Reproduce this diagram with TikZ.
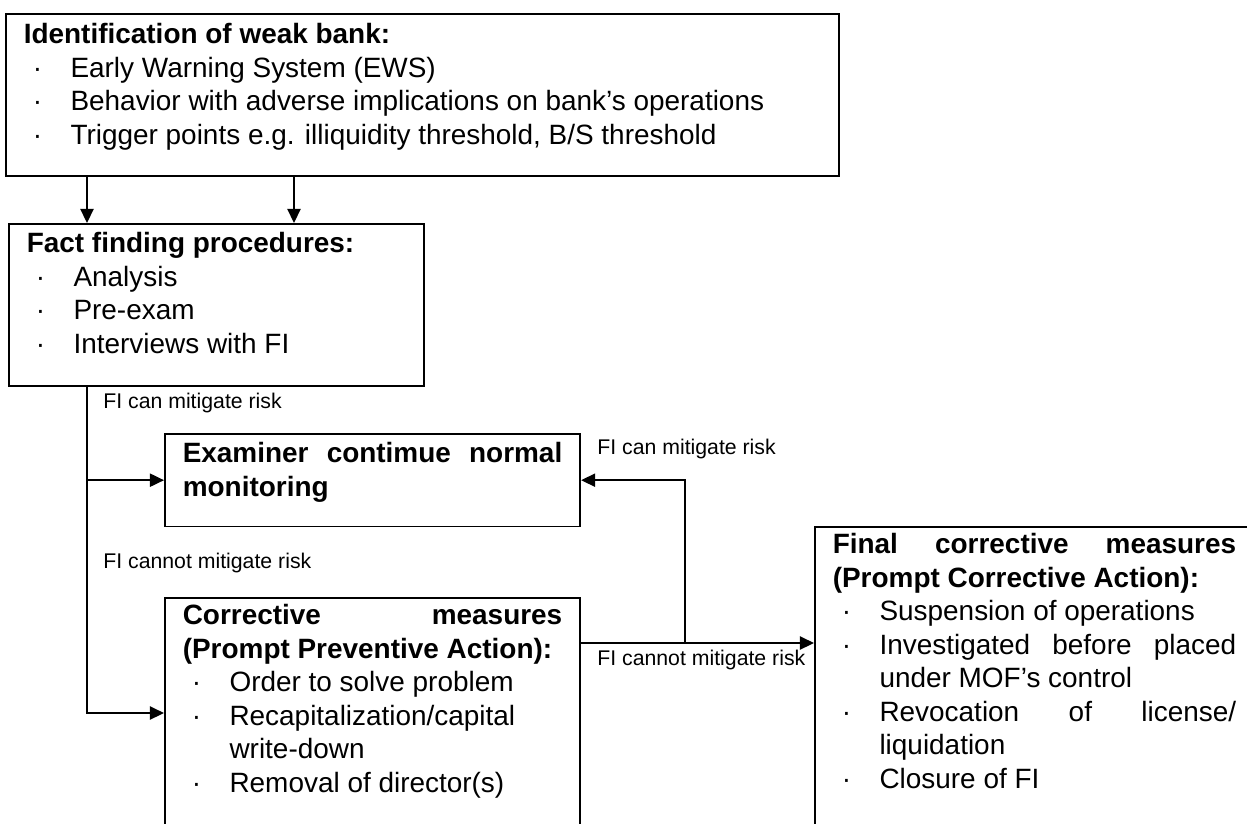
\documentclass[tikz,border=0pt]{standalone}
\usepackage{fontspec}
\setmainfont{Liberation Sans}
\usetikzlibrary{arrows.meta}

\newcommand{\boxfont}{\fontsize{15.9}{19.05}\selectfont
  \parindent=0pt \hyphenpenalty=10000 \exhyphenpenalty=10000 \tolerance=10000 \relax}
\newcommand{\itm}[1]{\par\hangindent=26.6pt\hangafter=1\noindent\makebox[26.6pt][l]{\hspace{5.1pt}·}#1}

\begin{document}
\begin{tikzpicture}[
    x=0.02cm, y=-0.02cm,
    box/.style={rectangle, draw, line width=1pt, anchor=north west,
                text width=216pt, align=justify, inner xsep=10.2pt, inner ysep=0pt,
                font=\boxfont},
    lbl/.style={anchor=base west, inner sep=0pt, font=\fontsize{12.1}{14}\selectfont},
    arrow/.style={->, >={Triangle[length=8pt, width=7.5pt]}, line width=0.9pt}
]
\path [use as bounding box] (0,0) rectangle (1247,823);
\clip (0,0) rectangle (1247,823);

\node (ident) [box, text width=453.6pt, text height=17pt, text depth=75.4pt] at (5,13)
  {\textbf{Identification of weak bank:}
   \itm{Early Warning System (EWS)}
   \itm{Behavior with adverse implications on bank’s operations}
   \itm{Trigger points e.g. illiquidity threshold, B/S threshold}};
\node (fact) [box, text height=16.4pt, text depth=76pt] at (8,223)
  {\textbf{Fact finding procedures:}
   \itm{Analysis}
   \itm{Pre-exam}
   \itm{Interviews with FI}};
\node (exam) [box, text height=16.4pt, text depth=36.3pt] at (164,433)
  {\textbf{Examiner contimue normal monitoring}};
\node (corr) [box, text height=15.3pt, text depth=145pt] at (164,597)
  {\textbf{Corrective measures (Prompt Preventive Action):}
   \itm{Order to solve problem}
   \itm{Recapitalization/capital write-down}
   \itm{Removal of director(s)}};
\node (final) [box, text width=229.6pt, text height=15.3pt, text depth=185pt] at (814,526)
  {\textbf{Final corrective measures (Prompt Corrective Action):}
   \itm{Suspension of operations}
   \itm{Investigated before placed under MOF’s control}
   \itm{Revocation of license/ liquidation}
   \itm{Closure of FI}};

\node (canl) [lbl] at (103,408) {FI can mitigate risk};
\node (canr) [lbl] at (597,454) {FI can mitigate risk};
\node (cannotl) [lbl] at (103,568) {FI cannot mitigate risk};
\node (cannotr) [lbl] at (597,665) {FI cannot mitigate risk};

\coordinate (lx) at (87,0);
\coordinate (rx) at (294,0);
\coordinate (corrin) at (0,713);
\coordinate (split) at (685,643);

\draw [arrow] (ident.south -| lx) -- (fact.north -| lx);
\draw [arrow] (ident.south -| rx) -- (fact.north -| rx);
\draw [arrow] (fact.south -| lx) |- (exam.west);
\draw [arrow] (fact.south -| lx) |- (corr.west |- corrin);
\draw [arrow] (corr.east |- split) -- (final.west |- split);
\draw [arrow] (split) |- (exam.east);

\end{tikzpicture}
\end{document}
